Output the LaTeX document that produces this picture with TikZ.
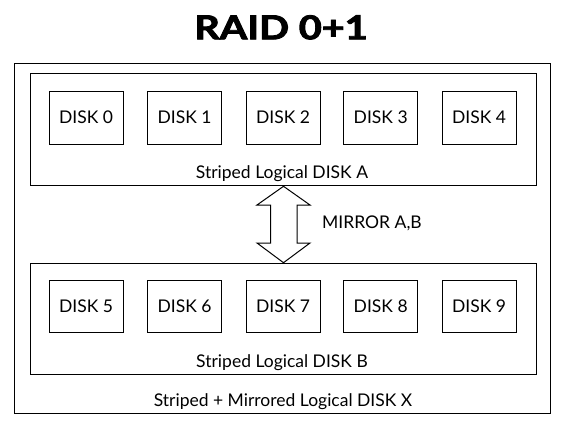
\documentclass[tikz,border=0pt]{standalone}
\usepackage{fontspec}
\setmainfont{Lato}
\newfontfamily\titlefont{Lato}[FakeBold=2.5]
\usetikzlibrary{calc}
\begin{document}
\begin{tikzpicture}[x=1pt,y=-1pt,
  frame/.style={draw=black, line width=1pt, inner sep=0pt, anchor=north west},
  disk/.style={draw=black, line width=0.9pt, minimum width=74pt, minimum height=53pt, inner sep=0pt, font=\fontsize{17.5}{18}\selectfont},
  lbl/.style={font=\fontsize{17.5}{18}\selectfont, inner sep=0pt, anchor=base},
  bigarrow/.style={draw=black, line width=1pt, fill=white, line join=miter}]
\useasboundingbox (0,0) rectangle (564,425);
\node[anchor=base, inner sep=0pt, font=\titlefont\fontsize{33}{34}\bfseries] (title) at (281,39.3) {\scalebox{1.2}[1]{RAID 0+1}};
\node[frame, minimum width=535.7pt, minimum height=350.6pt] (X) at (14.3,62.7) {};
\node[frame, minimum width=505.5pt, minimum height=112pt] (A) at (30,73.3) {};
\node[frame, minimum width=505.5pt, minimum height=111.6pt] (B) at (30,262.7) {};
\foreach \i/\x in {0/86,1/184.5,2/283,3/380.7,4/479}{
  \node[disk] (d\i) at (\x,117.5) {DISK \i};
}
\foreach \i/\x in {5/86,6/184.5,7/283,8/380.7,9/479}{
  \node[disk, minimum height=52pt] (d\i) at (\x,306.6) {DISK \i};
}
\node[lbl] (la) at (282,178.3) {Striped Logical DISK A};
\node[lbl] (lb) at (282,367.7) {Striped Logical DISK B};
\node[lbl] (lx) at (283,406.7) {Striped + Mirrored Logical DISK X};
\coordinate (tA) at ($(A.south)+(0.25,0)$);
\coordinate (tB) at ($(B.north)+(0.25,0)$);
\draw[bigarrow] (tA) -- ($(tA)+(26.5,18.7)$) -- ($(tA)+(13.7,18.7)$) -- ($(tB)+(13.7,-19.7)$) -- ($(tB)+(26.5,-19.7)$) -- (tB) -- ($(tB)+(-26.5,-19.7)$) -- ($(tB)+(-13,-19.7)$) -- ($(tA)+(-13,18.7)$) -- ($(tA)+(-26.5,18.7)$) -- cycle;
\node[lbl, anchor=base west] (mir) at (322,228.3) {MIRROR A,B};
\end{tikzpicture}
\end{document}
